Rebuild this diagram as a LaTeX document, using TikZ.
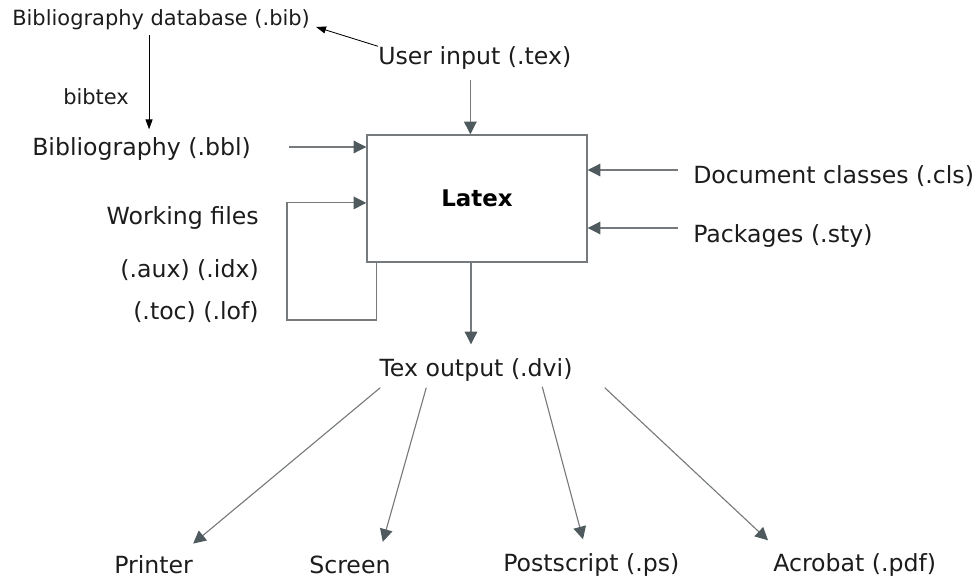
\documentclass[tikz,border=0pt]{standalone}
\usepackage{fontspec}
\setmainfont{DejaVu Sans}
\usetikzlibrary{arrows.meta, positioning, calc}
\definecolor{linegray}{RGB}{118,122,124}
\definecolor{tipgray}{RGB}{78,90,94}
\definecolor{txtgray}{RGB}{28,28,28}

\begin{document}
\begin{tikzpicture}[x=0.025cm, y=-0.025cm,
  lbl/.style={inner sep=0pt, text=txtgray, font=\fontsize{16.8}{20}\selectfont},
  smalllbl/.style={inner sep=0pt, text=txtgray, font=\fontsize{14.9}{18}\selectfont},
  mainbox/.style={draw=linegray, line width=1pt, minimum width=5.5cm, minimum height=3.175cm,
    text=black, font=\fontsize{16.3}{20}\selectfont\bfseries},
  garrow/.style={draw=linegray, line width=0.8pt, -{Triangle[width=9pt,length=9pt,color=tipgray]}},
  barrow/.style={draw=black, line width=0.6pt, -{Triangle[width=5pt,length=7pt]}}]
\useasboundingbox (0,0) rectangle (973,579);

\node[smalllbl, anchor=west](bibdb) at (12,20) {Bibliography database (.bib)};
\node[lbl, anchor=west](userin) at (378,58) {User input (.tex)};
\node[smalllbl, anchor=west](bibtex) at (63,97) {bibtex};
\node[lbl, anchor=west](bbl) at (32,149) {Bibliography (.bbl)};
\node[mainbox](latex) at (477,198.5) {Latex};
\node[lbl, anchor=east](work) at (259,218) {Working files};
\node[lbl, anchor=east](aux) at (259,270) {(.aux) (.idx)};
\node[lbl, anchor=east](toc) at (259,312) {(.toc) (.lof)};
\node[lbl, anchor=west](cls) at (693,176) {Document classes (.cls)};
\node[lbl, anchor=west](sty) at (693,236) {Packages (.sty)};
\node[lbl](dvi) at (476,370) {Tex output (.dvi)};
\node[lbl, anchor=west](printer) at (114,565) {Printer};
\node[lbl, anchor=west](screen) at (309,565) {Screen};
\node[lbl, anchor=west](ps) at (503,565) {Postscript (.ps)};
\node[lbl, anchor=west](pdf) at (773,565) {Acrobat (.pdf)};

% bibliography side
\path(userin.north west)edge[barrow]([shift={(6,7)}]bibdb.east);
\draw[barrow, shorten <=1.2mm, shorten >=2mm] ([xshift=-3mm]bibdb.south) -- ([xshift=-3mm]bibdb.south |- bbl.north);

% into latex
\draw[garrow, shorten <=2.5mm] ([xshift=-1.1mm]userin.south) -- ([xshift=-1.1mm]userin.south |- latex.north);
\draw[garrow, shorten <=9.5mm] ([yshift=0.5mm]bbl.east) -- ([yshift=0.5mm]bbl.east -| latex.west);
\draw[garrow] ([xshift=2.5mm]latex.south west) |- ([xshift=7mm,yshift=-2mm]toc.east) |- ([yshift=-1.1mm]latex.west);
\draw[garrow, shorten <=3.75mm] ([yshift=1.5mm]cls.west) -- ([yshift=1.5mm]cls.west -| latex.east);
\draw[garrow, shorten <=3.75mm] ([yshift=2mm]sty.west) -- ([yshift=2mm]sty.west -| latex.east);

% out of latex
\draw[garrow, shorten >=3.5mm] ([xshift=-1.5mm]latex.south) -- ([xshift=-1.5mm]latex.south |- dvi.north);
\path([shift={(1,6)}]dvi.south west)edge[garrow]([shift={(0,-12)}]printer.north east);
\path([shift={(47,6)}]dvi.south west)edge[garrow]([shift={(-8,-14)}]screen.north east);
\path([shift={(163,5)}]dvi.south west)edge[garrow]([shift={(80,-14)}]ps.north west);
\path([shift={(32,6)}]dvi.south east)edge[garrow]([shift={(-5,-13)}]pdf.north west);
\end{tikzpicture}
\end{document}
